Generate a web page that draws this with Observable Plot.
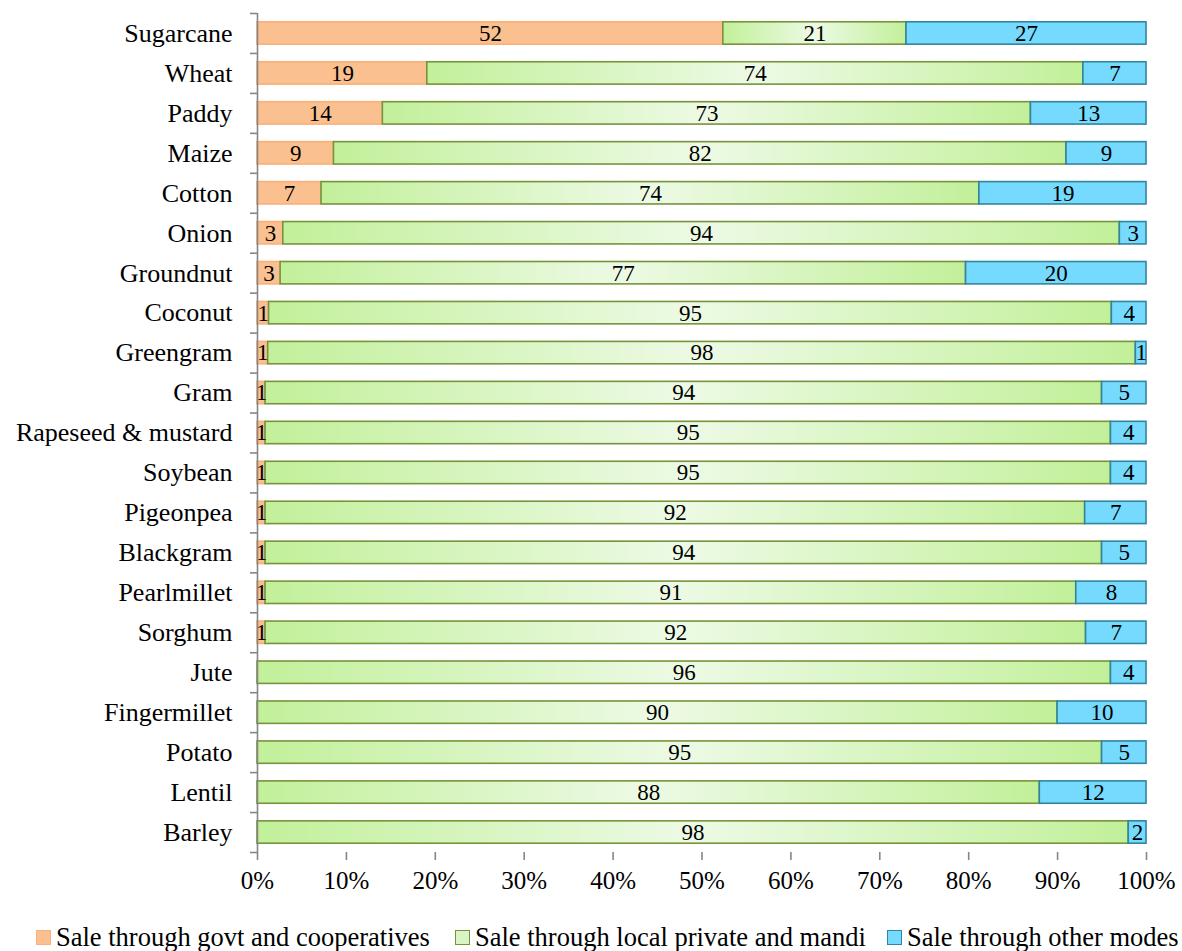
<!DOCTYPE html>
<html><head><meta charset="utf-8">
<script src="https://cdn.jsdelivr.net/npm/d3@7"></script>
<script src="https://cdn.jsdelivr.net/npm/@observablehq/plot@0.6"></script>
<style>
body{margin:0;background:#fff;font-family:'Liberation Serif','DejaVu Serif',serif;}
#wrap{position:relative;width:1182px;height:951px;overflow:hidden;}
#legend{position:absolute;left:0;top:923px;width:1182px;height:28px;}
.item{position:absolute;top:0;display:flex;align-items:center;height:28px;font-size:26.5px;line-height:28px;white-space:nowrap;color:#000;font-family:'Liberation Serif','DejaVu Serif',serif;}
.sw{width:15px;height:15px;box-sizing:border-box;margin-right:5px;border-width:1.5px;border-style:solid;}
</style></head><body>
<div id="wrap"><div id="chart"></div><div id="legend"></div></div>
<script>
const crops = ["Sugarcane","Wheat","Paddy","Maize","Cotton","Onion","Groundnut","Coconut","Greengram","Gram","Rapeseed & mustard","Soybean","Pigeonpea","Blackgram","Pearlmillet","Sorghum","Jute","Fingermillet","Potato","Lentil","Barley"];
const govt  = [52.4,19.1,14.1,8.6,7.2,2.9,2.6,1.3,1.2,0.9,0.9,0.9,0.9,0.9,0.9,0.9,0,0,0,0,0];
const local = [20.6,73.8,72.9,82.4,74.0,94.1,77.1,94.8,97.6,94.1,95.1,95.1,92.2,94.1,91.2,92.3,96.0,90.0,95.0,88.0,98.0];
const other = [27.0,7.1,13.0,9.0,18.8,3.0,20.3,3.9,1.2,5.0,4.0,4.0,6.9,5.0,7.9,6.8,4.0,10.0,5.0,12.0,2.0];
const modes = ["Sale through govt and cooperatives","Sale through local private and mandi","Sale through other modes"];
const xTicks = [0,10,20,30,40,50,60,70,80,90,100];

const fills = {[modes[0]]:"#fac090",[modes[1]]:"url(#gGreen)",[modes[2]]:"#75dafd"};
const strokes = {[modes[0]]:"#f9b07a",[modes[1]]:"#77933c",[modes[2]]:"#31859c"};
const swatch = {[modes[0]]:"#fac090",[modes[1]]:"#d9f5c5",[modes[2]]:"#75dafd"};

const series = [govt, local, other];
const data = [];
crops.forEach((c,i) => modes.forEach((m,j) => {
  if (series[j][i] > 0) data.push({crop:c, mode:m, value:series[j][i]});
}));

const W = 1182, H = 905;
const mTop = 13, mBottom = H - 852;
const step = (852 - mTop) / crops.length;
const FONT = "'Liberation Serif', 'DejaVu Serif', serif";

const chart = Plot.plot({
  width: W, height: H,
  marginLeft: 257, marginRight: 36, marginTop: mTop, marginBottom: mBottom,
  style: {fontFamily: FONT, fontSize: "24px", background: "#fff", color: "#000"},
  x: {domain: [0,100], axis: null, round: false},
  y: {domain: crops, paddingInner: 0.44, paddingOuter: 0.22, axis: null, round: false},
  color: {type: "identity"},
  marks: [
    Plot.barX(data, Plot.stackX({
      x: "value", y: "crop", z: "mode",
      fill: d => fills[d.mode], stroke: d => strokes[d.mode],
      strokeWidth: 1.6, inset: 0
    })),
    Plot.text(data, Plot.stackX({
      x: "value", y: "crop", z: "mode",
      text: d => d3.format(".0f")(d.value),
      fontSize: 23, fill: "#000"
    })),
    Plot.ruleX([0], {stroke: "#868686", strokeWidth: 1.6}),
    Plot.axisY({ticks: crops, tickSize: 0, tickPadding: 25, fontSize: 26, fill: "#000", label: null}),
    Plot.axisY({ticks: crops, tickSize: 7, tickFormat: () => "", dy: -step/2, stroke: "#868686", strokeWidth: 1.6, label: null}),
    Plot.axisY({ticks: crops.slice(-1), tickSize: 7, tickFormat: () => "", dy: step/2, stroke: "#868686", strokeWidth: 1.6, label: null}),
    Plot.axisX({ticks: xTicks, tickFormat: d => d + "%", tickSize: 8, tickPadding: 11, stroke: "#868686", strokeWidth: 1.6, fill: "#000", fontSize: 25, label: null})
  ]
});

d3.select(chart).insert("defs", ":first-child").html(
  '<linearGradient id="gGreen" x1="0" x2="1" y1="0" y2="0">' +
  '<stop offset="0" stop-color="#c2f09a"/><stop offset="0.5" stop-color="#edfae5"/><stop offset="1" stop-color="#c2f09a"/>' +
  '</linearGradient>');

document.getElementById("chart").appendChild(chart);

const lefts = [36, 455, 887];
const legend = d3.select("#legend");
modes.forEach((m,i) => {
  const it = legend.append("div").attr("class","item").style("left", lefts[i] + "px");
  it.append("div").attr("class","sw").style("background", swatch[m]).style("border-color", strokes[m]);
  it.append("span").text(m);
});
</script>
</body></html>
